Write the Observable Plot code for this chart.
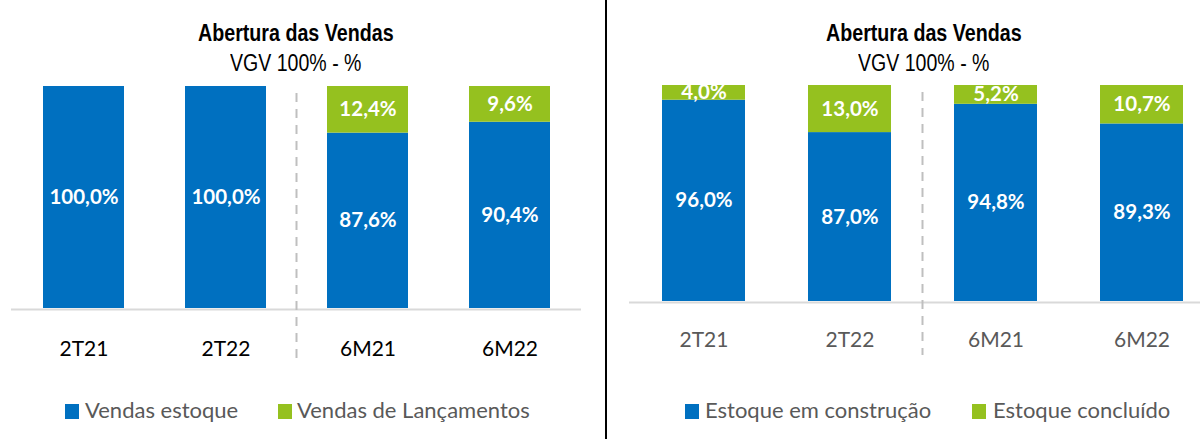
<!DOCTYPE html>
<html><head><meta charset="utf-8">
<script src="https://cdn.jsdelivr.net/npm/d3@7"></script>
<script src="https://cdn.jsdelivr.net/npm/@observablehq/plot@0.6"></script>
<style>
body{margin:0;background:#fff;}
#wrap{position:relative;width:1200px;height:439px;overflow:hidden;background:#fff;font-family:Lato,"Open Sans",sans-serif;}
.panel{position:absolute;top:0;height:439px;}
.panel svg{position:absolute;left:0;top:0;}
.title,.subtitle{position:absolute;font-family:"Liberation Sans Narrow","Arial Narrow","Liberation Sans",sans-serif;font-size:23px;line-height:23px;white-space:nowrap;transform-origin:0 50%;color:#000;}
.title{font-weight:bold;top:22px;}
.subtitle{top:52px;}
.sw{position:absolute;width:14px;height:15px;top:404px;}
.lt{position:absolute;top:399px;font-size:22px;line-height:22px;color:#595959;white-space:nowrap;font-family:Lato,sans-serif;}
#divider{position:absolute;left:605px;top:0;width:2px;height:439px;background:#000;}
</style></head>
<body><div id="wrap"><div id="divider"></div></div>
<script>
// ---- data ----
const categories = ["2T21", "2T22", "6M21", "6M22"];
const colors = ["#0070C0", "#95C11F"];
const titleText = "Abertura das Vendas";
const subtitleText = "VGV 100% - %";

// Left panel
const leftSeries = ["Vendas estoque", "Vendas de Lançamentos"];
const leftStock = [100, 100, 79.0, 83.9];        // drawn share
const leftLaunch = [0, 0, 21.0, 16.1];
const leftStockLabels = ["100,0%", "100,0%", "87,6%", "90,4%"];
const leftLaunchLabels = ["", "", "12,4%", "9,6%"];

// Right panel
const rightSeries = ["Estoque em construção", "Estoque concluído"];
const rightBuild = [93.2, 78.2, 91.3, 82.2];
const rightDone = [6.8, 21.8, 8.7, 17.8];
const rightBuildLabels = ["96,0%", "87,0%", "94,8%", "89,3%"];
const rightDoneLabels = ["4,0%", "13,0%", "5,2%", "10,7%"];

function rowsFor(series, a, b, la, lb) {
  const rows = [];
  categories.forEach((c, i) => {
    rows.push({cat: c, series: series[0], y1: 0, y2: a[i], label: la[i]});
    rows.push({cat: c, series: series[1], y1: a[i], y2: a[i] + b[i], label: lb[i]});
  });
  return rows;
}

function panel(cfg) {
  const div = document.createElement("div");
  div.className = "panel";
  div.style.left = cfg.left + "px";
  div.style.width = cfg.width + "px";
  document.getElementById("wrap").appendChild(div);

  const rows = rowsFor(cfg.series, cfg.a, cfg.b, cfg.la, cfg.lb);
  const plot = Plot.plot({
    width: cfg.width, height: cfg.height,
    marginLeft: cfg.ml, marginRight: cfg.mr, marginTop: cfg.mt, marginBottom: cfg.mb,
    x: {domain: categories, paddingInner: 0.43, paddingOuter: 0.215, axis: null},
    y: {domain: [0, 100], axis: null},
    color: {domain: cfg.series, range: colors},
    style: {background: "transparent", overflow: "visible"},
    marks: [
      Plot.ruleY([0], {stroke: "#d9d9d9", strokeWidth: 2, dy: 1}),
      Plot.barY(rows.filter(d => d.y2 > d.y1), {x: "cat", y1: "y1", y2: "y2", fill: "series"}),
      Plot.text(rows.filter(d => d.label), {x: "cat", y: d => (d.y1 + d.y2) / 2, text: "label",
        fill: "white", fontWeight: "bold", fontSize: 20.5, fontFamily: "Lato"}),
      Plot.text(categories, {x: d => d, frameAnchor: "bottom", dy: cfg.catDy, text: d => d,
        fill: cfg.catColor, fontSize: 21, fontFamily: "Lato", lineAnchor: "middle"})
    ]
  });
  div.appendChild(plot);
  const xs = plot.scale("x"), ys = plot.scale("y");
  const sx = xs.apply(categories[2]) - (xs.step - xs.bandwidth) / 2;
  d3.select(plot).append("line")
    .attr("x1", sx).attr("x2", sx)
    .attr("y1", ys.apply(100) + 7).attr("y2", ys.apply(0) + cfg.sepBelow)
    .attr("stroke", "#bfbfbf").attr("stroke-width", 2).attr("stroke-dasharray", "9,7");

  const t = document.createElement("div"); t.className = "title"; t.textContent = titleText;
  div.appendChild(t);
  const s = document.createElement("div"); s.className = "subtitle"; s.textContent = subtitleText;
  div.appendChild(s);
  // center after horizontal compression (narrow-font look)
  [[t, 0.855], [s, 0.85]].forEach(([el, k]) => {
    const w = el.getBoundingClientRect().width * k;
    el.style.transform = "scaleX(" + k + ")";
    el.style.left = (cfg.tc - w / 2) + "px";
  });

  cfg.series.forEach((name, i) => {
    const sw = document.createElement("div"); sw.className = "sw";
    sw.style.left = cfg.legend[i][0] + "px"; sw.style.background = colors[i]; div.appendChild(sw);
    const lt = document.createElement("div"); lt.className = "lt"; lt.textContent = name;
    lt.style.left = cfg.legend[i][1] + "px"; div.appendChild(lt);
  });
}

panel({left: 0, width: 600, height: 380, ml: 11, mr: 19, mt: 86, mb: 72,
  series: leftSeries, a: leftStock, b: leftLaunch, la: leftStockLabels, lb: leftLaunchLabels,
  catColor: "#000", catDy: 41, sepBelow: 55, tc: 296, legend: [[65, 85], [278, 297]]});
panel({left: 600, width: 616, height: 380, ml: 29, mr: 0, mt: 85, mb: 79,
  series: rightSeries, a: rightBuild, b: rightDone, la: rightBuildLabels, lb: rightDoneLabels,
  catColor: "#595959", catDy: 39, sepBelow: 54, tc: 323.5, legend: [[85, 105], [372, 393]]});
</script></body></html>
